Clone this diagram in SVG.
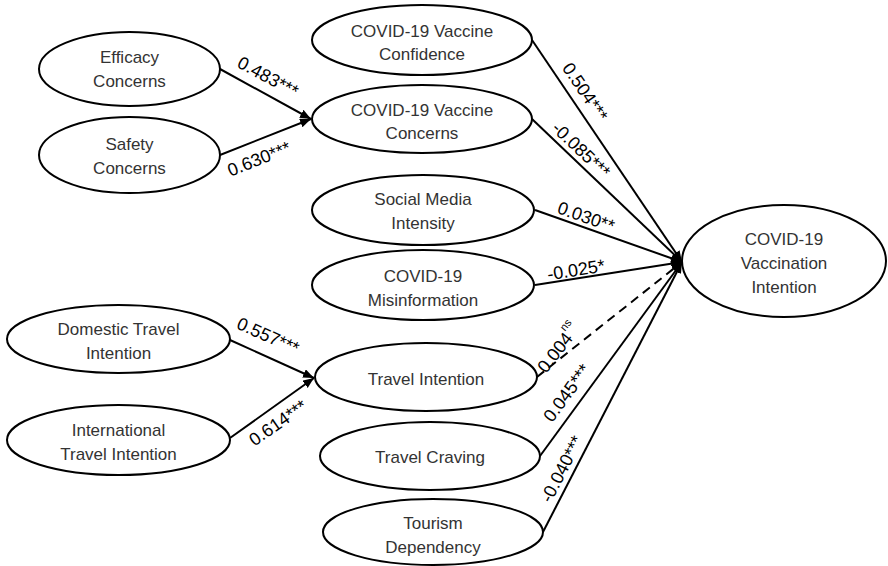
<svg xmlns="http://www.w3.org/2000/svg" width="888" height="566" viewBox="0 0 888 566">
<defs>
<marker id="ah" markerUnits="userSpaceOnUse" markerWidth="12" markerHeight="10" refX="11" refY="4.5" orient="auto">
<path d="M0,0 L11,4.5 L0,9 z" fill="#000"/>
</marker>
<style>
.n ellipse{fill:#fff;stroke:#000;stroke-width:2}
.n text{font-family:"Liberation Sans",Arial,sans-serif;font-size:17px;fill:#333;text-anchor:middle}
.c line{stroke:#000;stroke-width:2;marker-end:url(#ah)}
.c .d{stroke-dasharray:9,6}
.l text{font-family:"Liberation Sans",Arial,sans-serif;font-size:18px;fill:#000;text-anchor:middle}
</style>
</defs>
<rect width="888" height="566" fill="#fff"/>
<g class="c" id="connectors">
<line x1="220" y1="69" x2="311" y2="119"/>
<line x1="220" y1="155" x2="311" y2="119"/>
<line x1="230" y1="340" x2="314" y2="378"/>
<line x1="230" y1="438" x2="314" y2="378"/>
<line x1="532" y1="40" x2="682" y2="262"/>
<line x1="532" y1="119" x2="682" y2="262"/>
<line x1="535" y1="210" x2="682" y2="262"/>
<line x1="535" y1="285" x2="682" y2="262"/>
<line class="d" x1="537" y1="377" x2="682" y2="262"/>
<line x1="540" y1="456" x2="682" y2="262"/>
<line x1="543" y1="532" x2="682" y2="262"/>
</g>
<g class="l" id="labels">
<text transform="translate(268,77) rotate(28.5)" y="6">0.483***</text>
<text transform="translate(259,159) rotate(-21.4)" y="6">0.630***</text>
<text transform="translate(585,92) rotate(55.9)" y="6">0.504***</text>
<text transform="translate(581,150) rotate(43.6)" y="6">-0.085***</text>
<text transform="translate(586,217) rotate(19.5)" y="6">0.030**</text>
<text transform="translate(576,270) rotate(-8.9)" y="6">-0.025*</text>
<text transform="translate(546,374) rotate(-52)" style="text-anchor:start">0.004<tspan dy="-11" font-size="11">ns</tspan></text>
<text transform="translate(567,393) rotate(-53.8)" y="6">0.045***</text>
<text transform="translate(562,469) rotate(-62.8)" y="6">-0.040***</text>
<text transform="translate(268,336) rotate(24)" y="6">0.557***</text>
<text transform="translate(278,423) rotate(-35)" y="6">0.614***</text>
</g>
<g class="n" id="efficacy"><ellipse cx="129.5" cy="69" rx="90.5" ry="37"/><text x="129.5" y="63">Efficacy</text><text x="129.5" y="87">Concerns</text></g>
<g class="n" id="safety"><ellipse cx="129.5" cy="155" rx="90.5" ry="38"/><text x="129.5" y="150">Safety</text><text x="129.5" y="174">Concerns</text></g>
<g class="n" id="confidence"><ellipse cx="422" cy="40" rx="110" ry="35"/><text x="422" y="37">COVID-19 Vaccine</text><text x="422" y="60">Confidence</text></g>
<g class="n" id="vconcerns"><ellipse cx="422" cy="119" rx="110" ry="34"/><text x="422" y="116">COVID-19 Vaccine</text><text x="422" y="139">Concerns</text></g>
<g class="n" id="social"><ellipse cx="423" cy="210" rx="111" ry="35"/><text x="423" y="205">Social Media</text><text x="423" y="229">Intensity</text></g>
<g class="n" id="misinfo"><ellipse cx="423" cy="285" rx="111" ry="35"/><text x="423" y="282">COVID-19</text><text x="423" y="306">Misinformation</text></g>
<g class="n" id="travelint"><ellipse cx="426" cy="377" rx="111" ry="34"/><text x="426" y="385">Travel Intention</text></g>
<g class="n" id="craving"><ellipse cx="430" cy="456" rx="110" ry="34"/><text x="430" y="463">Travel Craving</text></g>
<g class="n" id="dependency"><ellipse cx="433" cy="532" rx="110" ry="33"/><text x="433" y="529">Tourism</text><text x="433" y="553">Dependency</text></g>
<g class="n" id="domestic"><ellipse cx="118.5" cy="339" rx="111.5" ry="34"/><text x="118.5" y="335">Domestic Travel</text><text x="118.5" y="359">Intention</text></g>
<g class="n" id="international"><ellipse cx="118.5" cy="440" rx="111.5" ry="35"/><text x="118.5" y="436">International</text><text x="118.5" y="460">Travel Intention</text></g>
<g class="n" id="vaccination"><ellipse cx="784" cy="261" rx="102" ry="56"/><text x="784" y="245">COVID-19</text><text x="784" y="269">Vaccination</text><text x="784" y="293">Intention</text></g>
</svg>
